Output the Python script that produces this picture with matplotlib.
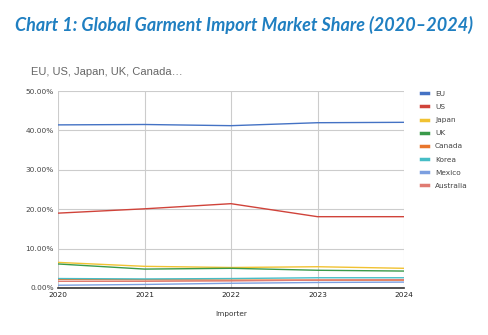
import matplotlib
matplotlib.use("Agg")
import matplotlib.pyplot as plt
from matplotlib.ticker import FuncFormatter, FixedLocator

years = [2020, 2021, 2022, 2023, 2024]
series_names = ["EU", "US", "Japan", "UK", "Canada", "Korea", "Mexico", "Australia"]
eu = [41.4, 41.5, 41.2, 41.95, 42.05]
us = [19.0, 20.1, 21.4, 18.1, 18.1]
japan = [6.5, 5.5, 5.2, 5.4, 5.0]
uk = [6.1, 4.8, 5.0, 4.5, 4.3]
canada = [2.2, 2.1, 2.0, 2.0, 2.0]
korea = [2.4, 2.3, 2.4, 2.6, 2.6]
mexico = [0.7, 0.9, 1.2, 1.4, 1.5]
australia = [1.7, 1.7, 1.8, 2.0, 2.1]
y_ticks = [0, 10, 20, 30, 40, 50]

values = [eu, us, japan, uk, canada, korea, mexico, australia]
colors = ["#4472c4", "#d0433a", "#f1c232", "#3a9a4a", "#e8762c", "#46bdc6", "#7c9fe0", "#e07b72"]

fig = plt.figure(figsize=(4.89, 3.35), dpi=100)
fig.patch.set_facecolor("white")

fig.text(244/489, 1-25/335, "Chart 1: Global Garment Import Market Share (2020\u20132024)",
         ha="center", va="center", fontsize=13, fontweight="bold", fontstyle="italic",
         color="#1f7fc1", family=["Lato", "DejaVu Sans"])
fig.text(31/489, 1-72/335, "EU, US, Japan, UK, Canada\u2026", ha="left", va="center",
         fontsize=8, color="#666666", family=["Liberation Sans", "DejaVu Sans"])

ax = fig.add_axes([58/489, 1-288/335, (404-58)/489, (288-91)/335])
for name, v, c in zip(series_names, values, colors):
    ax.plot(years, v, color=c, lw=1.0, label=name)

ax.set_xlim(2020, 2024)
ax.set_ylim(0, 50)
ax.xaxis.set_major_locator(FixedLocator(years))
ax.yaxis.set_major_locator(FixedLocator(y_ticks))
ax.yaxis.set_major_formatter(FuncFormatter(lambda v, p: f"{v:.2f}%"))
ax.grid(True, color="#cccccc", lw=0.8)
ax.set_axisbelow(True)
for s in ["top", "right", "left"]:
    ax.spines[s].set_visible(False)
ax.spines["bottom"].set_color("#333333")
ax.spines["bottom"].set_linewidth(1.2)
ax.tick_params(axis="both", length=0, labelsize=5.3, colors="#444444")
ax.tick_params(axis="y", pad=3)
ax.tick_params(axis="x", pad=3, labelcolor="#222222")
ax.set_xlabel("Importer", fontsize=5.3, color="#333333", labelpad=9)

leg = ax.legend(loc="upper left", bbox_to_anchor=(1.03, 1.035), frameon=False,
                fontsize=5.3, handlelength=1.0, handletextpad=0.9, labelspacing=0.95,
                labelcolor="#444444")
for h in leg.get_lines():
    h.set_linewidth(2.5)

fig.savefig("out.png", dpi=100, facecolor="white")
